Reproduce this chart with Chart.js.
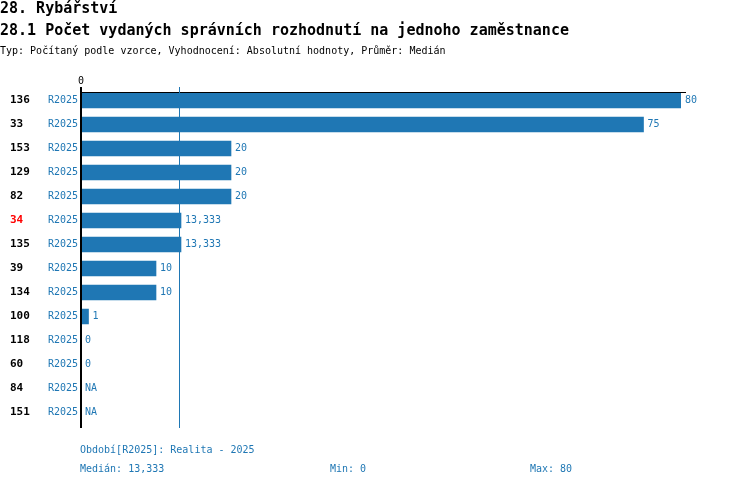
<!DOCTYPE html>
<html>
<head>
<meta charset="utf-8">
<script src="https://cdn.jsdelivr.net/npm/chart.js@4"></script>
<style>
  html, body { margin: 0; padding: 0; background: #fff; }
  #wrap { position: relative; width: 750px; height: 488px; overflow: hidden; font-family: 'DejaVu Sans Mono', monospace; }
  #c { position: absolute; left: 0; top: 0; }
  .t { position: absolute; white-space: pre; }
  .h1 { font-size: 15px; line-height: 15px; font-weight: bold; color: #000; }
  .sub { font-size: 10px; line-height: 10px; color: #000; }
  .ft { font-size: 10px; line-height: 10px; color: #1f77b4; }
</style>
</head>
<body>
<div id="wrap">
  <canvas id="c" width="750" height="488"></canvas>
  <div class="t h1" style="left:0;top:1px;">28. Rybářství</div>
  <div class="t h1" style="left:0;top:23px;">28.1 Počet vydaných správních rozhodnutí na jednoho zaměstnance</div>
  <div class="t sub" style="left:0;top:46px;">Typ: Počítaný podle vzorce, Vyhodnocení: Absolutní hodnoty, Průměr: Medián</div>
  <div class="t ft" style="left:80px;top:445px;">Období[R2025]: Realita - 2025</div>
  <div class="t ft" id="fMed" style="left:80px;top:464px;"></div>
  <div class="t ft" id="fMin" style="left:330px;top:464px;"></div>
  <div class="t ft" id="fMax" style="left:530px;top:464px;"></div>
</div>
<script>
// ---- data ----
const categories = ['136','33','153','129','82','34','135','39','134','100','118','60','84','151'];
const seriesLabel = 'R2025';
const values = [80, 75, 20, 20, 20, 13.333, 13.333, 10, 10, 1, 0, 0, null, null];
const highlighted = ['34'];
const axisTicks = [0];
const medianValue = 13.333;
const minValue = 0;
const maxValue = 80;

const BLUE = '#1f77b4';
const FONT = "'DejaVu Sans Mono', monospace";

function fmt(v) {
  if (v === null || v === undefined) return 'NA';
  return String(v).replace('.', ',');
}

document.getElementById('fMed').textContent = 'Medián: ' + fmt(medianValue);
document.getElementById('fMin').textContent = 'Min: ' + fmt(minValue);
document.getElementById('fMax').textContent = 'Max: ' + fmt(maxValue);

const decor = {
  id: 'decor',
  afterDatasetsDraw(chart) {
    const ctx = chart.ctx;
    const xs = chart.scales.x, ys = chart.scales.y;
    const x0 = xs.getPixelForValue(0);
    const top = chart.chartArea.top, bottom = chart.chartArea.bottom;
    ctx.save();
    // top border line
    ctx.strokeStyle = '#000';
    ctx.lineWidth = 1;
    ctx.beginPath();
    ctx.moveTo(x0 - 1, top + 4);
    ctx.lineTo(xs.right + 5, top + 4);
    ctx.stroke();
    // median line
    const xm = Math.round(xs.getPixelForValue(medianValue)) - 1.5;
    ctx.strokeStyle = BLUE;
    ctx.beginPath();
    ctx.moveTo(xm, top - 1.5);
    ctx.lineTo(xm, bottom + 3.5);
    ctx.stroke();
    // left axis line
    ctx.strokeStyle = '#000';
    ctx.lineWidth = 2;
    ctx.beginPath();
    ctx.moveTo(x0, top - 1.5);
    ctx.lineTo(x0, bottom + 3.5);
    ctx.stroke();
    // tick labels
    ctx.fillStyle = '#000';
    ctx.font = '10px ' + FONT;
    ctx.textAlign = 'center';
    ctx.textBaseline = 'middle';
    axisTicks.forEach(t => ctx.fillText(String(t), xs.getPixelForValue(t), top - 7));
    // row labels
    categories.forEach((cat, i) => {
      const y = ys.getPixelForValue(i);
      ctx.font = 'bold 11px ' + FONT;
      ctx.textAlign = 'left';
      ctx.fillStyle = highlighted.includes(cat) ? '#ff0000' : '#000';
      ctx.fillText(cat, 10, y);
      ctx.font = '10px ' + FONT;
      ctx.textAlign = 'right';
      ctx.fillStyle = BLUE;
      ctx.fillText(seriesLabel, x0 - 3, y);
      const v = values[i];
      ctx.textAlign = 'left';
      ctx.fillText(fmt(v), xs.getPixelForValue(v === null ? 0 : v) + 4, y);
    });
    ctx.restore();
  }
};

new Chart(document.getElementById('c'), {
  type: 'bar',
  data: {
    labels: categories,
    datasets: [{
      label: seriesLabel,
      data: values,
      backgroundColor: BLUE,
      borderWidth: 0,
      barThickness: 15
    }]
  },
  options: {
    indexAxis: 'y',
    responsive: false,
    devicePixelRatio: 1,
    animation: false,
    layout: { padding: { left: 81, right: 69, top: 88.5, bottom: 63.5 } },
    scales: {
      x: { display: false, min: 0, max: 80 },
      y: { display: false }
    },
    plugins: { legend: { display: false }, tooltip: { enabled: false } }
  },
  plugins: [decor]
});
</script>
</body>
</html>
